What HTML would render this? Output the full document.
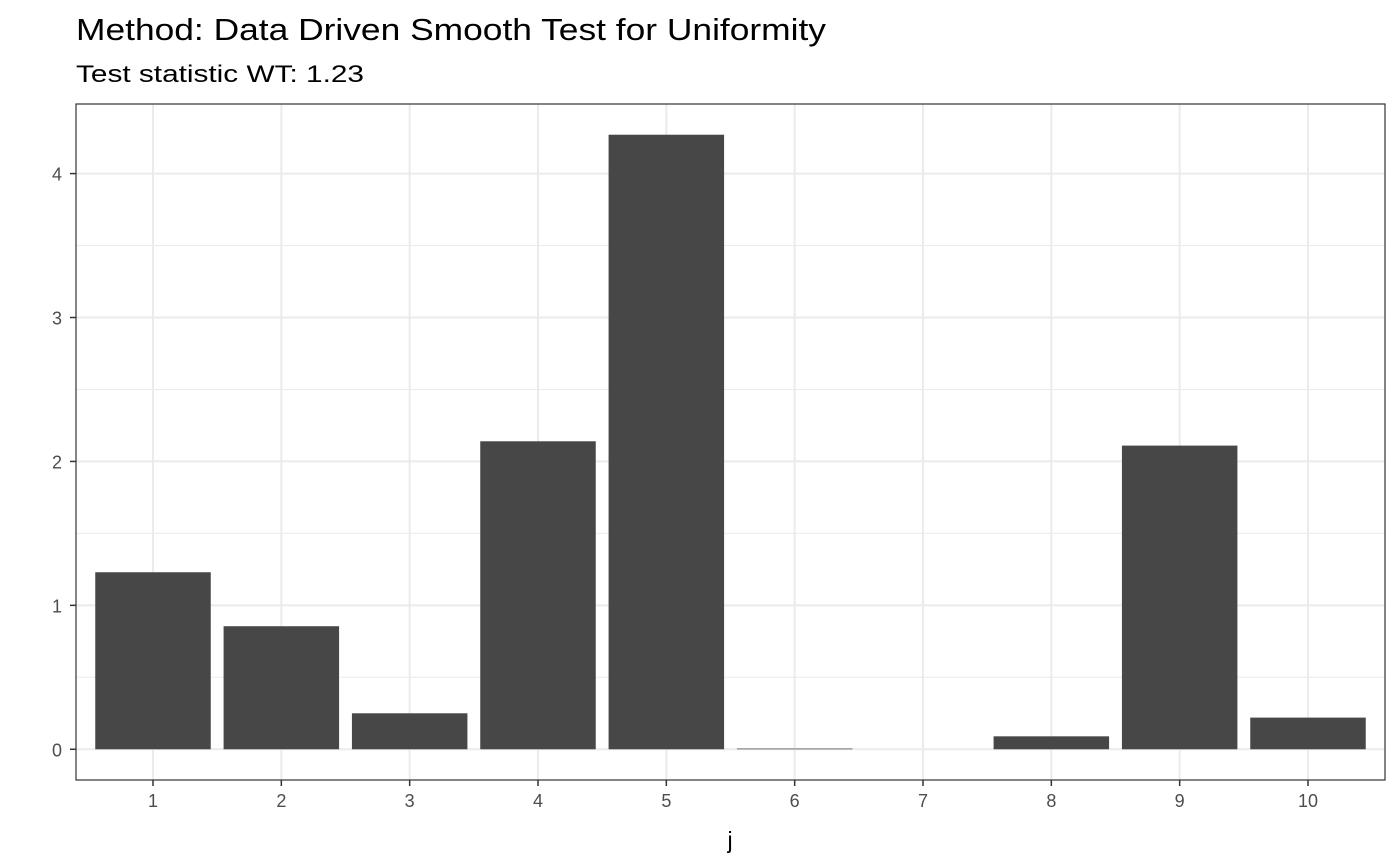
<!DOCTYPE html>
<html><head><meta charset="utf-8"><style>
body{margin:0;background:#fff;}
svg{display:block;font-family:"Liberation Sans",Arial,sans-serif;}
</style></head><body>
<svg id="chart" width="1400" height="866">
<text x="76" y="40" font-size="31" textLength="750" lengthAdjust="spacingAndGlyphs" fill="#000">Method: Data Driven Smooth Test for Uniformity</text>
<text x="76" y="82" font-size="24" textLength="288" lengthAdjust="spacingAndGlyphs" fill="#000">Test statistic WT: 1.23</text>
<g id="grid"></g>
<g id="bars"></g>
<rect x="76" y="104" width="1309" height="676" fill="none" stroke="#333" stroke-width="1.2"/>
<g id="axes"></g>
<text x="730" y="848" font-size="23" text-anchor="middle" fill="#000">j</text>
</svg>
<script>
const categories=["1","2","3","4","5","6","7","8","9","10"];
const values=[1.23,0.855,0.25,2.14,4.27,0.005,0,0.09,2.11,0.22];
const yTicks=[0,1,2,3,4];
const yTickLabels=["0","1","2","3","4"];
const ns="http://www.w3.org/2000/svg";
const L=76,R=1385,T=104,B=780;
const ymin=-0.2135,ymax=4.4835;
const y=v=>B-(v-ymin)/(ymax-ymin)*(B-T);
const n=categories.length;
const x=i=>L+(i+1-0.4)/(n+0.2)*(R-L);
const unit=(R-L)/(n+0.2);
function mk(tag,attrs,parent){const e=document.createElementNS(ns,tag);for(const k in attrs)e.setAttribute(k,attrs[k]);document.getElementById(parent).appendChild(e);return e;}
for(let k=0;k<yTicks.length;k++){
  const m=yTicks[k]+0.5;
  if(y(m)>T){const g=mk('line',{x1:L,x2:R,y1:y(m),y2:y(m),stroke:'#ebebeb','stroke-width':1},'grid');}
  const g=mk('line',{x1:L,x2:R,y1:y(yTicks[k]),y2:y(yTicks[k]),stroke:'#ebebeb','stroke-width':2},'grid');
  
  
  const t=mk('line',{x1:L-6,x2:L,y1:y(yTicks[k]),y2:y(yTicks[k]),stroke:'#333','stroke-width':1.5},'axes');
  
  
  const lb=mk('text',{x:L-14,y:y(yTicks[k])+7,'font-size':18,'text-anchor':'end',fill:'#4d4d4d'},'axes');
  lb.textContent=yTickLabels[k];
  
  
}
for(let i=0;i<n;i++){
  const g=mk('line',{x1:x(i),x2:x(i),y1:T,y2:B,stroke:'#ebebeb','stroke-width':2},'grid');
  
  
  const w=unit*0.9;
  const top=Math.min(y(values[i]),y(0)), h=Math.abs(y(0)-y(values[i]));
  const b=mk('rect',{x:x(i)-w/2,y:top,width:w,height:Math.max(h,0),fill:'#474747'},'bars');
  
  
  const t=mk('line',{x1:x(i),x2:x(i),y1:B,y2:B+6,stroke:'#333','stroke-width':1.5},'axes');
  
  
  const lb=mk('text',{x:x(i),y:B+27,'font-size':18,'text-anchor':'middle',fill:'#4d4d4d'},'axes');
  lb.textContent=categories[i];
  
  
}
</script>
</body></html>
